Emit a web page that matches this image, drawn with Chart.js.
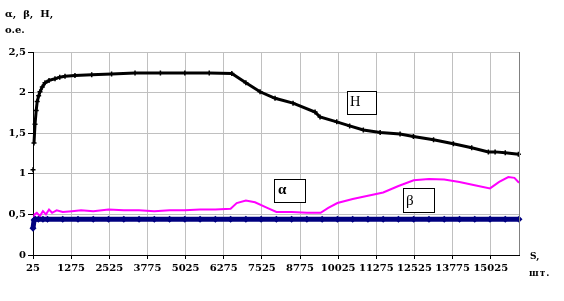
<!DOCTYPE html>
<html>
<head>
<meta charset="utf-8">
<script src="https://cdn.jsdelivr.net/npm/chart.js@4"></script>
<style>
  body { margin: 0; background: #fff; }
</style>
</head>
<body>
<canvas id="grafiek" width="564" height="301"></canvas>
<script>
// waarden
let sH = [25, 58, 91, 130, 163, 210, 254, 330, 418, 550, 746, 900, 1074, 1400, 1949, 2600, 3368, 4200, 5000, 5800, 6540, 7000, 7465, 7956, 8546, 9267, 9431, 9978, 10400, 10850, 11400, 12053, 12489, 13150, 13800, 14400, 14947, 15167, 15500, 15930];
let hVals = [1.05, 1.38, 1.61, 1.78, 1.89, 1.96, 2.01, 2.07, 2.12, 2.15, 2.17, 2.19, 2.20, 2.21, 2.22, 2.23, 2.24, 2.24, 2.24, 2.24, 2.235, 2.12, 2.01, 1.93, 1.87, 1.76, 1.70, 1.64, 1.59, 1.54, 1.51, 1.49, 1.46, 1.42, 1.37, 1.32, 1.27, 1.27, 1.26, 1.24];

let sA = [25, 75, 150, 250, 350, 450, 550, 650, 800, 1000, 1300, 1600, 2000, 2500, 3000, 3500, 4000, 4500, 5000, 5500, 6000, 6500, 6700, 7000, 7300, 7700, 8000, 8500, 9000, 9450, 9700, 10000, 10500, 11000, 11500, 12000, 12500, 13000, 13500, 14000, 14500, 15000, 15300, 15600, 15800, 15950];
let aVals = [0.37, 0.50, 0.52, 0.48, 0.54, 0.50, 0.56, 0.52, 0.55, 0.53, 0.54, 0.55, 0.54, 0.56, 0.55, 0.55, 0.54, 0.55, 0.55, 0.56, 0.56, 0.57, 0.64, 0.67, 0.65, 0.58, 0.53, 0.53, 0.52, 0.52, 0.58, 0.64, 0.69, 0.73, 0.77, 0.85, 0.92, 0.935, 0.93, 0.90, 0.86, 0.82, 0.90, 0.96, 0.95, 0.89];

let sB = [25, 60, 100, 200, 350, 500, 1000, 1500, 2000, 2500, 3000, 3500, 4000, 4500, 5000, 5500, 6000, 6500, 7000, 7500, 8000, 8500, 9000, 9500, 10000, 10500, 11000, 11500, 12000, 12500, 13000, 13500, 14000, 14500, 15000, 15500, 15950];
let bVals = [0.33, 0.43, 0.44, 0.44, 0.44, 0.44, 0.44, 0.44, 0.44, 0.44, 0.44, 0.44, 0.44, 0.44, 0.44, 0.44, 0.44, 0.44, 0.44, 0.44, 0.44, 0.44, 0.44, 0.44, 0.44, 0.44, 0.44, 0.44, 0.44, 0.44, 0.44, 0.44, 0.44, 0.44, 0.44, 0.44, 0.44];

let xTicks = [25, 1275, 2525, 3775, 5025, 6275, 7525, 8775, 10025, 11275, 12525, 13775, 15025];
let yTicks = [0, 0.5, 1, 1.5, 2, 2.5];

function punten(xs, ys) {
  let res = [];
  for (let i = 0; i < xs.length; i++) {
    res.push({ x: xs[i], y: ys[i] });
  }
  return res;
}

let tickFont = { family: "DejaVu Serif", size: 10, weight: "bold" };

// teksten en kaders rond de grafiek
let teksten = {
  id: "teksten",
  afterDraw(chart) {
    let ctx = chart.ctx;
    let area = chart.chartArea;
    ctx.save();
    // rechter rand van het plotgebied
    ctx.strokeStyle = "#808080";
    ctx.lineWidth = 1;
    ctx.beginPath();
    ctx.moveTo(Math.round(area.right) + 0.5, area.top);
    ctx.lineTo(Math.round(area.right) + 0.5, area.bottom);
    ctx.stroke();

    ctx.fillStyle = "#000";
    ctx.textAlign = "left";
    ctx.textBaseline = "alphabetic";
    ctx.font = "bold 10px 'DejaVu Serif'";
    ctx.fillText("α,  β,  H,", 5, 17);
    ctx.fillText("o.e.", 5, 33);
    ctx.font = "bold 9px 'DejaVu Serif'";
    ctx.fillText("S,", 530, 259);
    ctx.letterSpacing = "1px";
    ctx.fillText("шт.", 529, 276);
    ctx.letterSpacing = "0px";

    // kaders met namen
    let kaders = [
      { t: "H", x: 347, y: 91, w: 29, h: 23, tx: 350, ty: 105.5, f: "14.5px 'Liberation Serif'" },
      { t: "α", x: 274, y: 179, w: 31, h: 23, tx: 278, ty: 194, f: "bold 15px 'Liberation Serif'" },
      { t: "β", x: 403, y: 188, w: 31, h: 24, tx: 406, ty: 205, f: "15px 'Liberation Serif'" }
    ];
    kaders.forEach(k => {
      ctx.fillStyle = "#fff";
      ctx.fillRect(k.x, k.y, k.w, k.h);
      ctx.strokeStyle = "#000";
      ctx.strokeRect(k.x + 0.5, k.y + 0.5, k.w, k.h);
      ctx.fillStyle = "#000";
      ctx.font = k.f;
      ctx.fillText(k.t, k.tx, k.ty);
    });
    ctx.restore();
  }
};

let ctx = document.getElementById("grafiek").getContext("2d");
let myChart = new Chart(ctx, {
  type: "line",
  data: {
    datasets: [
      {
        label: "β",
        data: punten(sB, bVals),
        borderColor: "#000080",
        backgroundColor: "#000080",
        borderWidth: 5,
        pointStyle: "rectRot",
        pointRadius: 3.5,
        pointBorderWidth: 0,
        tension: 0,
        clip: false
      },
      {
        label: "α",
        data: punten(sA, aVals),
        borderColor: "#ff00ff",
        borderWidth: 2,
        pointRadius: 0,
        tension: 0
      },
      {
        label: "H",
        data: punten(sH, hVals),
        borderColor: "#000",
        backgroundColor: "#000",
        borderWidth: 3,
        pointStyle: "cross",
        pointRadius: 2.5,
        pointBorderWidth: 1.5,
        tension: 0,
        clip: false,
        // eerste punt staat los van de lijn
        segment: {
          borderColor: c => c.p0DataIndex === 0 ? "rgba(0,0,0,0)" : undefined
        }
      }
    ]
  },
  options: {
    responsive: false,
    animation: false,
    devicePixelRatio: 1,
    layout: { padding: { top: 52, right: 45, left: 0, bottom: 0 } },
    plugins: {
      legend: { display: false },
      tooltip: { enabled: false }
    },
    scales: {
      x: {
        type: "linear",
        min: 25,
        max: 15950,
        afterBuildTicks: scale => {
          scale.ticks = xTicks.map(v => ({ value: v }));
        },
        afterFit: scale => { scale.height = 46; },
        grid: { color: "#c0c0c0", tickColor: "#000", tickLength: 4 },
        border: { color: "#000", width: 1 },
        ticks: {
          color: "#000",
          font: tickFont,
          padding: 3,
          maxRotation: 0,
          autoSkip: false,
          callback: v => String(v)
        }
      },
      y: {
        min: 0,
        max: 2.5,
        afterBuildTicks: scale => {
          scale.ticks = yTicks.map(v => ({ value: v }));
        },
        afterFit: scale => { scale.width = 33; },
        grid: { color: "#c0c0c0", tickColor: "#000", tickLength: 5 },
        border: { color: "#000", width: 1 },
        ticks: {
          color: "#000",
          font: tickFont,
          padding: 2,
          callback: v => String(v).replace(".", ",")
        }
      }
    }
  },
  plugins: [teksten]
});
</script>
</body>
</html>
